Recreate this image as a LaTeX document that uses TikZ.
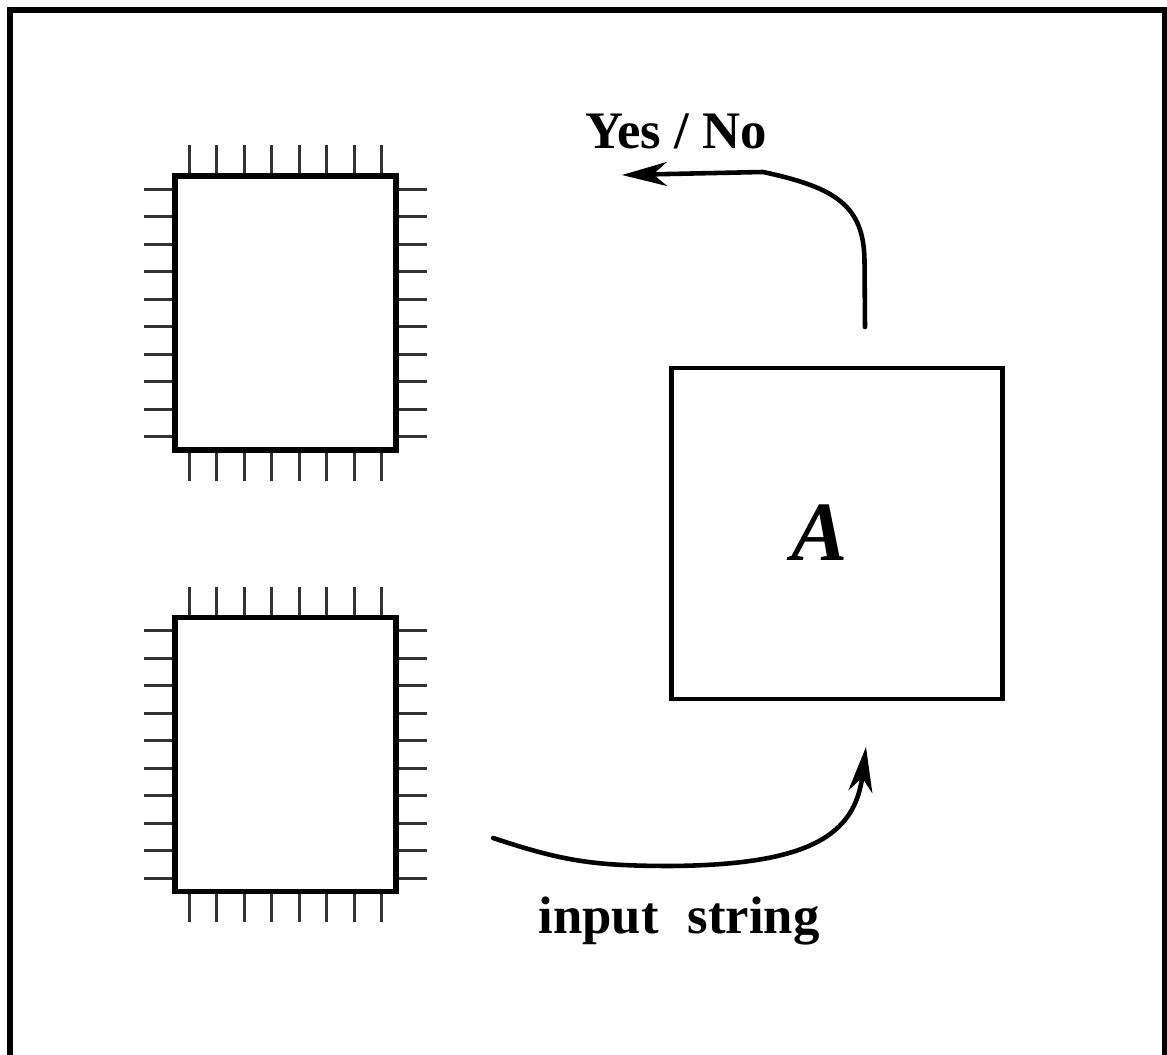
\documentclass[tikz,border=0pt]{standalone}
\usepackage{fontspec}
\setmainfont{Liberation Serif}
\usetikzlibrary{arrows.meta}

\begin{document}
\begin{tikzpicture}[line cap=butt,line join=miter,
  every node/.style={inner sep=1pt},
  chip/.style={draw,line width=3pt,minimum width=4.42cm,minimum height=5.48cm,inner sep=0pt},
  pin/.style={line width=1.7pt,black!80},
  machine/.style={draw,line width=2.3pt,minimum size=6.62cm,inner sep=0pt},
  flow/.style={line width=2.6pt,line cap=round},
  head/.style={-{Stealth[length=0.9cm,width=0.48cm,inset=0.28cm]}}]
  \useasboundingbox (0,0) rectangle (23.34,21.1);
  % frame
  \draw[line width=3.2pt] (0.2,-0.2) -- (0.2,20.9) -- (23.3,20.9) -- (23.3,-0.2);
  % tapes / chips
  \node[chip] (chipTop) at (5.71,14.84) {};
  \node[chip] (chipBot) at (5.71,6.01) {};
  \foreach \c in {chipTop,chipBot}{
    \foreach \i in {0,...,7}{
      \draw[pin] ([xshift={-1.925cm+0.55cm*\i}]\c.north) -- ++(0,0.56);
      \draw[pin] ([xshift={-1.925cm+0.55cm*\i}]\c.south) -- ++(0,-0.56);
    }
    \foreach \j in {0,...,9}{
      \draw[pin] ([yshift={-2.475cm+0.55cm*\j}]\c.west) -- ++(-0.56,0);
      \draw[pin] ([yshift={-2.475cm+0.55cm*\j}]\c.east) -- ++(0.56,0);
    }
  }
  % the machine
  \node[machine] (A) at (16.74,10.43) {};
  \node[anchor=base,font=\fontsize{48}{56}\selectfont\bfseries\itshape] (Aname) at (16.4,9.88) {A};
  % output
  \coordinate (outStart) at (17.30,14.56);
  \coordinate (outTip) at (12.44,17.60);
  \node[anchor=base,font=\fontsize{30}{36}\selectfont\bfseries] (answer) at (13.52,18.12) {Yes / No};
  \draw[flow,head] (outStart) -- (17.29,15.9)
    .. controls (17.27,17.0) and (16.7,17.35) .. (15.26,17.66) -- (outTip);
  % input
  \coordinate (inStart) at (9.86,4.34);
  \coordinate (inTip) at (17.32,6.16);
  \node[anchor=base,font=\fontsize{30}{36}\selectfont\bfseries] (input) at (13.58,2.42) {input\hspace{0.55em}string};
  \draw[flow,head] (inStart)
    .. controls (11.2,3.9) and (11.8,3.78) .. (13.4,3.78)
    .. controls (16.2,3.8) and (17.1,4.4) .. (inTip);
\end{tikzpicture}
\end{document}
